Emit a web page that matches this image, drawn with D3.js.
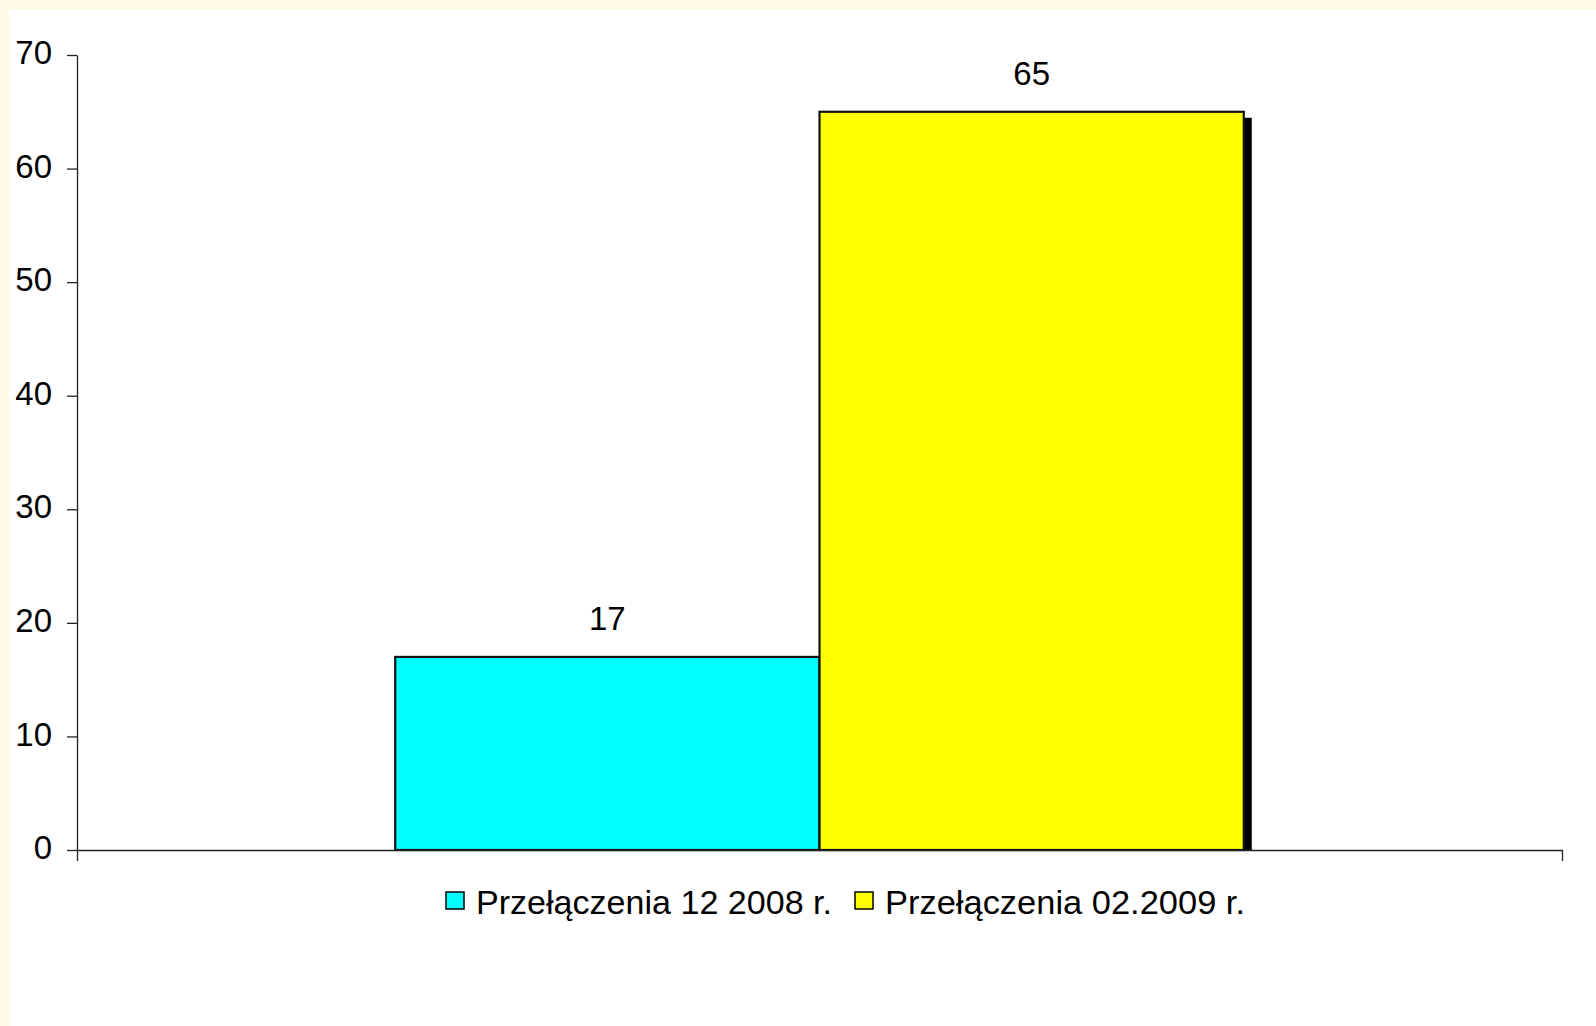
<!DOCTYPE html>
<html lang="pl">
<head>
  <meta charset="UTF-8">
  <title>Przełączenia</title>
  <style>
    body { margin: 0; background: #fffae6; }
    svg { display: block; font-family: "Liberation Sans", Arial, sans-serif; }
  </style>
  <script src="https://d3js.org/d3.v7.min.js"></script>
</head>
<body>
  <svg id="chart" width="1596" height="1026"></svg>

  <script>
    // data
    const category = [''];
    const seriesNames = ['Przełączenia 12 2008 r.', 'Przełączenia 02.2009 r.'];
    const seriesValues = [17, 65];
    const seriesColors = ['#00ffff', '#ffff00'];
    const yTicks = [0, 10, 20, 30, 40, 50, 60, 70];

    const svg = d3.select('#chart');
    const W = 1596, H = 1026;
    const plot = { left: 77, right: 1562, top: 55, bottom: 850 };
    const fontSize = 33;

    // background: cream frame at top/left, white panel
    svg.append('rect').attr('width', W).attr('height', H).attr('fill', '#fffae6');
    svg.append('rect').attr('x', 9).attr('y', 10).attr('width', W - 9).attr('height', H - 10).attr('fill', '#fff');

    const y = d3.scaleLinear().domain([0, 70]).range([plot.bottom, plot.top]);
    const x0 = d3.scaleBand().domain(category).range([plot.left, plot.right]);
    const x1 = d3.scaleBand().domain(seriesNames)
      .range([plot.left, plot.right])
      .paddingInner(0)
      .paddingOuter(0.75);

    const bars = seriesNames.map((s, i) => ({ name: s, value: seriesValues[i], color: seriesColors[i] }));

    // shadows (offset, clipped at the axis)
    svg.append('defs').append('clipPath').attr('id', 'plotclip')
      .append('rect').attr('x', plot.left).attr('y', 0)
      .attr('width', plot.right - plot.left).attr('height', plot.bottom);

    svg.append('g').attr('clip-path', 'url(#plotclip)')
      .selectAll('rect')
      .data(bars)
      .join('rect')
      .attr('x', d => x1(d.name) + 8)
      .attr('y', d => y(d.value) + 6)
      .attr('width', x1.bandwidth())
      .attr('height', d => y(0) - y(d.value))
      .attr('fill', '#000');

    svg.append('g')
      .selectAll('rect')
      .data(bars)
      .join('rect')
      .attr('x', d => x1(d.name))
      .attr('y', d => y(d.value))
      .attr('width', x1.bandwidth())
      .attr('height', d => y(0) - y(d.value))
      .attr('fill', d => d.color)
      .attr('stroke', '#111')
      .attr('stroke-width', 2.2);

    // value labels
    svg.append('g')
      .selectAll('text')
      .data(bars)
      .join('text')
      .attr('x', d => x1(d.name) + x1.bandwidth() / 2)
      .attr('y', d => y(d.value) - 27)
      .attr('text-anchor', 'middle')
      .attr('font-size', fontSize)
      .attr('fill', '#000')
      .text(d => d.value);

    // y axis
    const yAxis = svg.append('g')
      .attr('transform', `translate(${plot.left},0)`)
      .call(d3.axisLeft(y).tickValues(yTicks).tickSize(10).tickSizeOuter(0).tickPadding(15));
    yAxis.selectAll('text')
      .attr('font-size', fontSize)
      .attr('font-family', '"Liberation Sans", Arial, sans-serif')
      .attr('fill', '#000')
      .attr('dy', '0.26em');

    // x axis (category boundaries only)
    svg.append('g')
      .attr('transform', `translate(0,${plot.bottom})`)
      .call(d3.axisBottom(x0).tickSize(0).tickSizeOuter(11).tickFormat(''));

    svg.selectAll('.domain, .tick line')
      .attr('stroke', '#222')
      .attr('stroke-width', 1.3);

    // legend
    const legendX = [446, 855];
    const legendTextW = [356, 360];
    const items = svg.append('g')
      .selectAll('g')
      .data(bars)
      .join('g')
      .attr('transform', (d, i) => `translate(${legendX[i]},892)`);
    items.append('rect')
      .attr('width', 18)
      .attr('height', 17)
      .attr('fill', d => d.color)
      .attr('stroke', '#000')
      .attr('stroke-width', 1.5);
    items.append('text')
      .attr('x', 30)
      .attr('y', 22)
      .attr('font-size', fontSize)
      .attr('fill', '#000')
      .attr('textLength', (d, i) => legendTextW[i])
      .attr('lengthAdjust', 'spacingAndGlyphs')
      .text(d => d.name);
  </script>
</body>
</html>
